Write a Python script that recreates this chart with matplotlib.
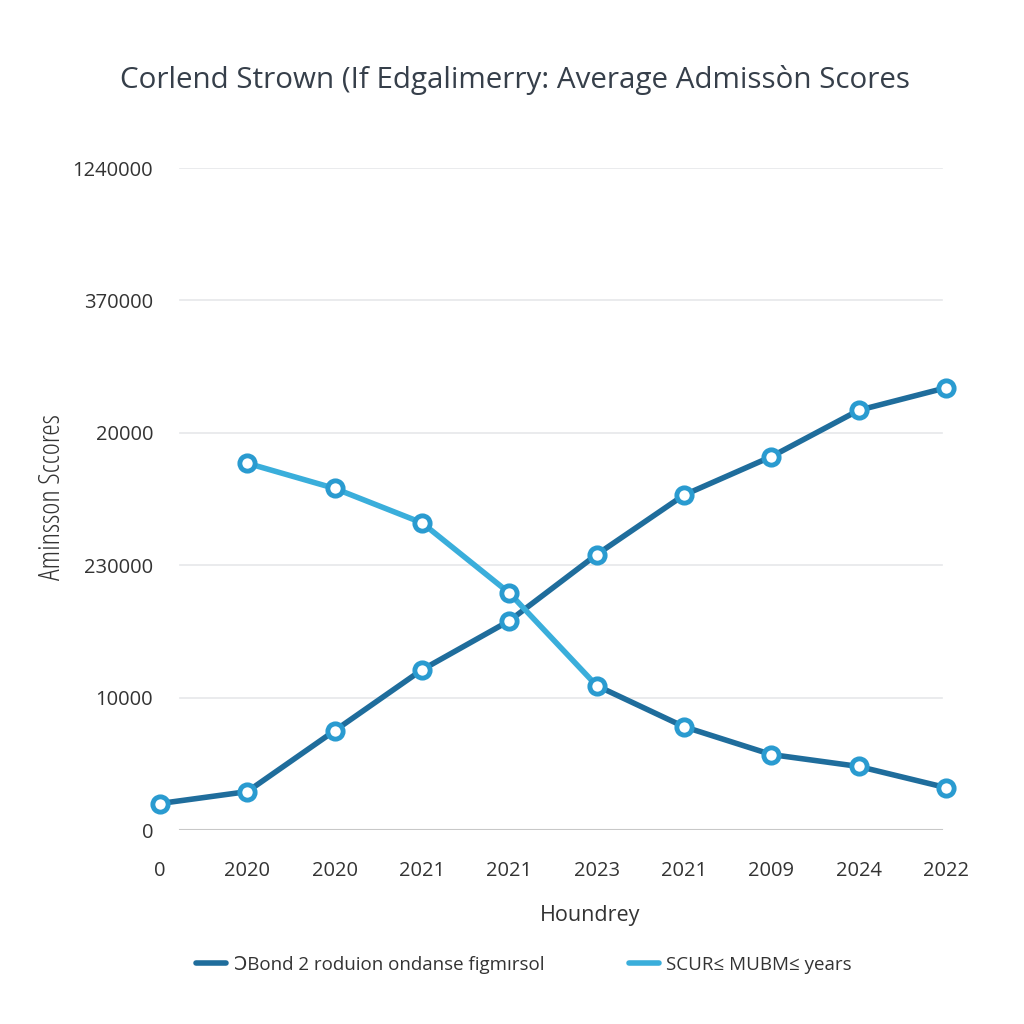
import numpy as np
import matplotlib.pyplot as plt
from matplotlib.lines import Line2D

plt.rcParams['font.family'] = ['Open Sans', 'DejaVu Sans']

# category positions and their (odd) tick labels
x_labels = ['0', '2020', '2020', '2021', '2021', '2023', '2021', '2009', '2024', '2022']
y_labels = ['0', '10000', '230000', '20000', '370000', '1240000']

# series values in grid-step units (0 = baseline, 5 = top gridline)
dark_vals = [0.20, 0.29, 0.75, 1.21, 1.58, 2.08, 2.53, 2.82, 3.17, 3.34]
light_vals = [None, 2.77, 2.58, 2.32, 1.79, 1.09, 0.78, 0.57, 0.48, 0.32]

dark_name = '\u0186Bond 2 roduion ondanse figm\u0131rsol'
light_name = 'SCUR\u2264 MUBM\u2264 years'

dark = '#1f6d9c'
light = '#3aaedb'
marker_edge = '#2a9bd0'

fig = plt.figure(figsize=(10.24, 10.24), dpi=100)
# axes spans first to last category; gridlines drawn a little narrower
ax = fig.add_axes([160 / 1024, 194 / 1024, 786 / 1024, 662 / 1024])

x = np.arange(len(x_labels))
step = 786 / 9
gx0, gx1 = 20 / step, 9 - 4 / step

# gridlines
for yv in range(1, len(y_labels)):
    ax.plot([gx0, gx1], [yv, yv], color='#e6e8ea', lw=1.2, zorder=1)
ax.plot([gx0, gx1], [0, 0], color='#c8c8c8', lw=1.5, zorder=1)

# dark series
ax.plot(x, dark_vals, color=dark, lw=4, zorder=3, clip_on=False,
        marker='o', ms=11, mfc='white', mec=marker_edge, mew=3.5)

# light series (turns dark after the crossing)
lx = x[1:]
ly = np.array(light_vals[1:], dtype=float)
ax.plot(lx[:5], ly[:5], color=light, lw=4, zorder=3, clip_on=False)
ax.plot(lx[4:], ly[4:], color=dark, lw=4, zorder=3, clip_on=False)
ax.plot(lx, ly, lw=0, zorder=4, clip_on=False,
        marker='o', ms=11, mfc='white', mec=marker_edge, mew=3.5)

ax.set_xticks(x)
ax.set_xticklabels(x_labels)
ax.set_yticks(range(len(y_labels)))
ax.set_yticklabels(y_labels)
ax.set_xlim(0, 9)
ax.set_ylim(0, 5)
ax.tick_params(length=0, labelsize=14.5, colors='#333333')
ax.tick_params(axis='y', pad=5)
ax.tick_params(axis='x', pad=22)

for s in ax.spines.values():
    s.set_visible(False)

fig.text(590 / 1024, 1 - 915 / 1024, 'Houndrey', ha='center', va='center',
         fontsize=15.5, color='#333333')
fig.text(52 / 1024, 1 - 497 / 1024, 'Aminsson Sccores', rotation=90,
         ha='center', va='center', fontsize=21, color='#333333',
         fontstretch='condensed')

fig.text(515 / 1024, 1 - 80 / 1024,
         'Corlend Strown (If Edgalimerry: Average Admiss\u00f2n Scores',
         ha='center', va='center', fontsize=21.3, color='#363f4a',
         fontweight='medium')

handles = [Line2D([], [], color=dark, lw=4, solid_capstyle='round'),
           Line2D([], [], color=light, lw=4, solid_capstyle='round')]
fig.legend(handles, [dark_name, light_name], loc='center',
           bbox_to_anchor=(524 / 1024, 1 - 965 / 1024), ncol=2, frameon=False,
           fontsize=13.5, handlelength=1.6, handletextpad=0.4,
           columnspacing=4.5, labelcolor='#333333')

fig.savefig('out.png', dpi=100, facecolor='white')
